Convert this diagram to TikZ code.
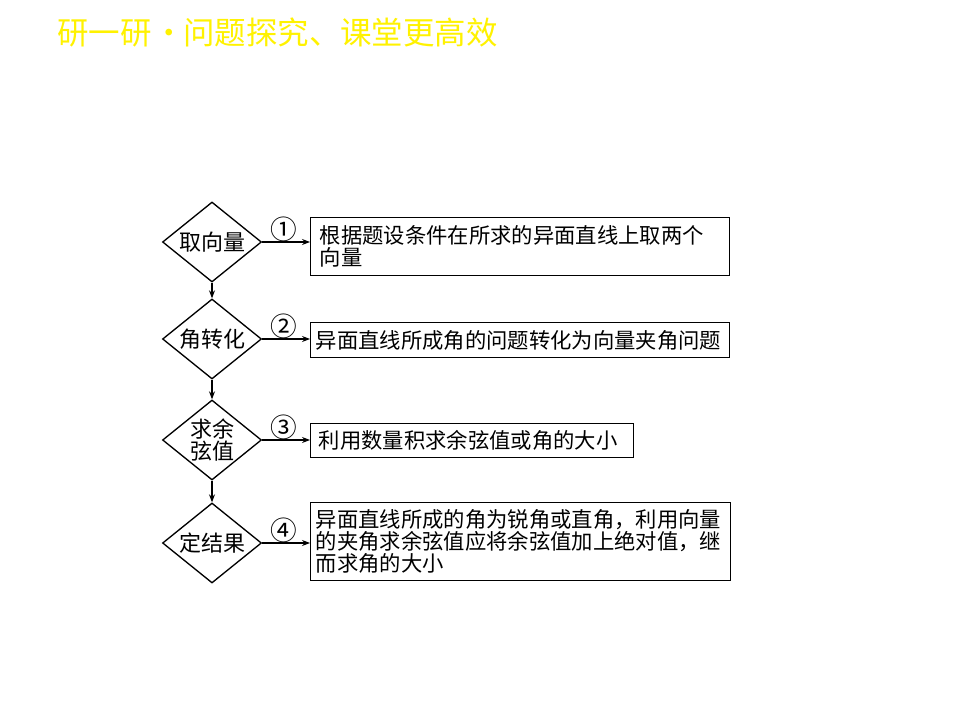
\documentclass[tikz,border=0pt]{standalone}
\usepackage{fontspec}
\setmainfont{Noto Sans CJK SC}
\usetikzlibrary{shapes.geometric,arrows.meta}
\begin{document}
\begin{tikzpicture}[x=0.75pt,y=-0.75pt,
  dia/.style={diamond,draw,line width=1pt,inner sep=0pt,aspect=1.24,
    minimum width=74.25pt,minimum height=60pt,align=center,
    font=\fontsize{16.5pt}{18pt}\selectfont},
  box/.style={draw,line width=1pt,anchor=north west,align=left,inner ysep=0pt,
    font=\fontsize{16pt}{16.6pt}\selectfont},
  arr/.style={-{Stealth[length=6pt,width=4.5pt]},line width=0.8pt},
  num/.style={font=\fontsize{20pt}{20pt}\selectfont,inner sep=0pt}
]
\useasboundingbox (0,0) rectangle (960,720);
\fill[white] (0,0) rectangle (960,720);

\node[anchor=west,text=yellow,inner sep=0pt,font=\fontsize{23.6pt}{24pt}\selectfont] (title) at (57,32) {研一研\makebox[1em][l]{\hspace{0.05em}·}问题探究、课堂更高效};

\node[dia] (d1) at (212,242) {取向量};
\node[dia] (d2) at (212,339) {角转化};
\node[dia] (d3) at (212,440) {求余\\[-2pt]弦值};
\node[dia] (d4) at (212,543) {定结果};

\node[box,inner xsep=6.75pt,text width=300.75pt,minimum height=43.5pt] (b1) at (310,217)
  {根据题设条件在所求的异面直线上取两个\\向量};
\node[box,inner xsep=3.75pt,text width=306.75pt,minimum height=26.25pt] (b2) at (310,322)
  {异面直线所成角的问题转化为向量夹角问题};
\node[box,inner xsep=6pt,text width=230.25pt,minimum height=25.5pt] (b3) at (310,423)
  {利用数量积求余弦值或角的大小};
\node[box,inner xsep=3.75pt,text width=307.5pt,minimum height=58.5pt] (b4) at (310,502)
  {异面直线所成的角为锐角或直角，利用向量\\的夹角求余弦值应将余弦值加上绝对值，继\\而求角的大小};

\draw[arr] (d1.east) -- (d1.east -| b1.west) node[num,midway,xshift=-1.5pt,yshift=9.75pt] (n1) {①};
\draw[arr] (d2.east) -- (d2.east -| b2.west) node[num,midway,xshift=-1.5pt,yshift=9.75pt] (n2) {②};
\draw[arr] (d3.east) -- (d3.east -| b3.west) node[num,midway,xshift=-1.5pt,yshift=9.75pt] (n3) {③};
\draw[arr] (d4.east) -- (d4.east -| b4.west) node[num,midway,xshift=-1.5pt,yshift=9.75pt] (n4) {④};

\draw[arr] (d1.south) -- (d2.north);
\draw[arr] (d2.south) -- (d3.north);
\draw[arr] (d3.south) -- (d4.north);
\end{tikzpicture}
\end{document}
